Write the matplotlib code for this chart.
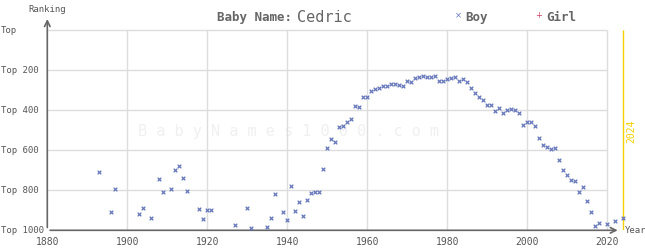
import matplotlib.pyplot as plt
from matplotlib.transforms import blended_transform_factory

# ============================================
# Data: Baby Name "Cedric" (boy ranking)
# ============================================

years = [1893, 1896, 1897, 1903, 1904, 1906, 1908, 1909, 1911, 1912,
         1913, 1914, 1915, 1918, 1919, 1920, 1921, 1927, 1930, 1931,
         1935, 1936, 1937, 1939, 1940, 1941, 1942, 1943, 1944, 1945,
         1946, 1947, 1948, 1949, 1950, 1951, 1952, 1953, 1954, 1955,
         1956, 1957, 1958, 1959, 1960, 1961, 1962, 1963, 1964, 1965,
         1966, 1967, 1968, 1969, 1970, 1971, 1972, 1973, 1974, 1975,
         1976, 1977, 1978, 1979, 1980, 1981, 1982, 1983, 1984, 1985,
         1986, 1987, 1988, 1989, 1990, 1991, 1992, 1993, 1994, 1995,
         1996, 1997, 1998, 1999, 2000, 2001, 2002, 2003, 2004, 2005,
         2006, 2007, 2008, 2009, 2010, 2011, 2012, 2013, 2014, 2015,
         2016, 2017, 2018, 2020, 2022, 2024]

boy_rank = [710, 910, 795, 920, 890, 940, 745, 810, 795, 700,
            680, 740, 805, 895, 945, 900, 900, 975, 890, 990,
            985, 940, 818, 910, 950, 780, 905, 860, 930, 850,
            815, 810, 810, 695, 590, 545, 560, 485, 480, 460,
            445, 380, 385, 335, 335, 305, 295, 290, 280, 280,
            270, 270, 275, 280, 255, 260, 240, 235, 230, 235,
            235, 230, 255, 255, 245, 240, 235, 255, 245, 260,
            290, 315, 335, 350, 375, 375, 405, 390, 415, 400,
            395, 400, 415, 475, 460, 460, 480, 540, 575, 585,
            595, 590, 650, 700, 725, 750, 755, 810, 785, 855,
            910, 980, 965, 970, 955, 940]

x_ticks = [1880, 1900, 1920, 1940, 1960, 1980, 2000, 2020]
y_ticks = [0, 200, 400, 600, 800, 1000]
y_labels = ["Top", "Top 200", "Top 400", "Top 600", "Top 800", "Top 1000"]

name = "Cedric"
current_year = 2024

# ============================================
# Figure
# ============================================

W, H = 645, 250
fig = plt.figure(figsize=(W / 100, H / 100), dpi=100)
ax = fig.add_axes([47.3 / W, (H - 230.3) / H, 592 / W, 220 / H])
ax.set_xlim(1880, 2028)
ax.set_ylim(1000, -100)
ax.axis("off")

mono = "DejaVu Sans Mono"
grid_c = "#dddddd"
axis_c = "#666666"
text_c = "#555555"

# grid
ax.hlines(y_ticks[:-1], 1880, 2020, color=grid_c, lw=1, zorder=1)
ax.vlines(x_ticks[1:], 0, 1000, color=grid_c, lw=1, zorder=1)

# watermark
ax.text(1940.2, 508, " ".join("BabyNames1000.com"), ha="center", va="center",
        fontsize=11, family=mono, color="#f0f0f0", zorder=0)

# current year line
ax.vlines(current_year, 0, 1000, color="#f5d000", lw=1, zorder=2)
ax.text(2025.9, 505, str(current_year), rotation=90, ha="center", va="center",
        fontsize=7, family=mono, color="#f5d000")

# axes with arrows
ax.annotate("", xy=(1880, -70), xytext=(1880, 1000),
            arrowprops=dict(arrowstyle="->", color=axis_c, lw=1.2), annotation_clip=False)
ax.annotate("", xy=(2023.3, 1000), xytext=(1880, 1000),
            arrowprops=dict(arrowstyle="->", color=axis_c, lw=1.2), annotation_clip=False)
ax.text(1880, -82, "Ranking", ha="center", va="bottom", fontsize=6.5,
        family=mono, color=text_c)
ax.text(2024.4, 1000, "Year", ha="left", va="center", fontsize=6.5,
        family=mono, color=text_c)

# tick labels
trans = blended_transform_factory(fig.transFigure, ax.transData)
for v, lab in zip(y_ticks, y_labels):
    ax.text(1 / W, v, lab, transform=trans, ha="left", va="center",
            fontsize=6.5, family=mono, color=text_c)
for yr in x_ticks:
    ax.text(yr, 1060, str(yr), ha="center", va="center", fontsize=7,
            family=mono, color=text_c)

# data
ax.scatter(years, boy_rank, marker="x", s=7, linewidths=0.9,
           color="#6677bb", zorder=3, clip_on=False)

# title and legend
fig.text(217 / W, 1 - 17 / H, "Baby Name:", ha="left", va="center",
         fontsize=9, family=mono, weight="bold", color="#666666")
fig.text(297 / W, 1 - 17 / H, name, ha="left", va="center",
         fontsize=11, family=mono, color="#666666")
fig.text(458 / W, 1 - 16 / H, "×", ha="center", va="center",
         fontsize=6, color="#6677bb")
fig.text(465 / W, 1 - 17 / H, "Boy", ha="left", va="center",
         fontsize=9, family=mono, weight="bold", color="#666666")
fig.text(539 / W, 1 - 16 / H, "+", ha="center", va="center",
         fontsize=6, color="#cc4466")
fig.text(546 / W, 1 - 17 / H, "Girl", ha="left", va="center",
         fontsize=9, family=mono, weight="bold", color="#666666")

fig.savefig("out.png", dpi=100)
